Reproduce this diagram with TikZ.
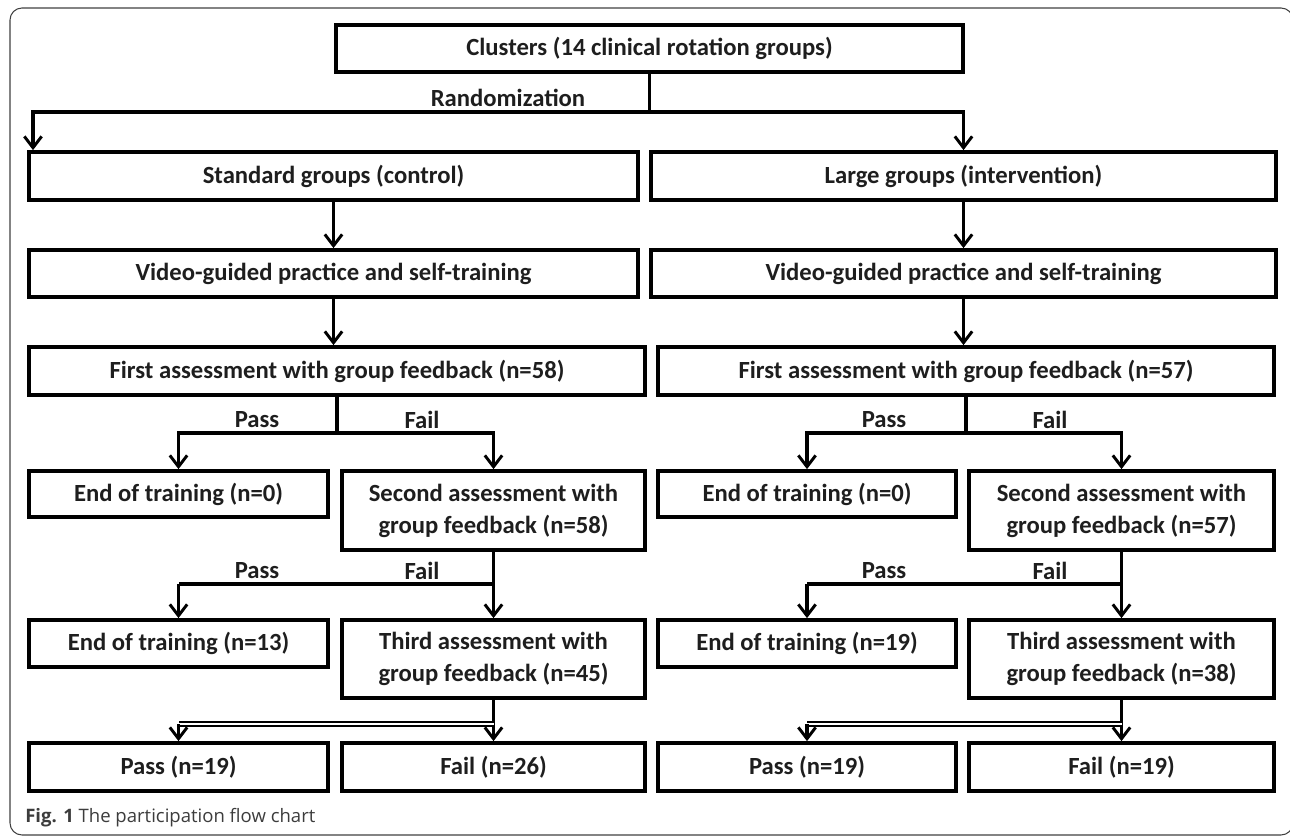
\documentclass[tikz,border=0pt]{standalone}
\usepackage{fontspec}
\setmainfont{Carlito}
\newfontfamily\capfont{Open Sans}
\usetikzlibrary{arrows.meta}
\definecolor{ink}{HTML}{1E1E1E}
\definecolor{capgray}{HTML}{3C3C3C}
\newcommand\bx[6]{\node[box, minimum width={(#4-#2)*0.75pt}, minimum height={(#5-#3)*0.75pt}] (#1) at ({(#2+#4)/2},{(#3+#5)/2}) {#6};}
\begin{document}
\begin{tikzpicture}[x=0.75pt,y=-0.75pt,
  box/.style={draw=black, line width=2.8pt, fill=white, inner sep=0pt, align=center, text=ink,
    font=\bfseries\fontsize{18.5}{24}\selectfont},
  conn/.style={draw=black, line width=2.8pt, -{Straight Barb[length=8.5pt,width=13pt,line width=2.2pt]}},
  plain/.style={draw=black, line width=2.8pt},
  dbl/.style={draw=black, line width=1.2pt, double=white, double distance=1.5pt},
  lbl/.style={text=ink, font=\bfseries\fontsize{18.5}{22}\selectfont, inner sep=0pt},
  frame/.style={draw=black!75, line width=0.8pt, rounded corners=9pt}
]
\useasboundingbox (0,0) rectangle (1290,837);
\draw[frame] (10,8) rectangle (1293,835);

\bx{clu}{336}{25}{963}{72}{Clusters (14 clinical rotation groups)}
\bx{std}{29}{152}{638}{200}{Standard groups (control)}
\bx{lrg}{651}{152}{1276}{200}{Large groups (intervention)}
\bx{vidL}{29}{250}{638}{297}{Video-guided practice and self-training}
\bx{vidR}{651}{250}{1276}{297}{Video-guided practice and self-training}
\bx{faL}{29}{347}{645}{395}{First assessment with group feedback (n=58)}
\bx{faR}{658}{347}{1274}{395}{First assessment with group feedback (n=57)}
\bx{e1L}{29}{471}{328}{517}{End of training (n=0)}
\bx{s2L}{342}{471}{645}{550}{Second assessment with\\group feedback (n=58)}
\bx{e1R}{658}{471}{956}{517}{End of training (n=0)}
\bx{s2R}{969}{471}{1274}{550}{Second assessment with\\group feedback (n=57)}
\bx{e2L}{29}{620}{328}{667}{End of training (n=13)}
\bx{t3L}{342}{620}{645}{698}{Third assessment with\\group feedback (n=45)}
\bx{e2R}{658}{620}{956}{667}{End of training (n=19)}
\bx{t3R}{969}{620}{1274}{698}{Third assessment with\\group feedback (n=38)}
\bx{pL}{29}{743}{328}{791}{Pass (n=19)}
\bx{fL}{342}{743}{645}{791}{Fail (n=26)}
\bx{pR}{658}{743}{956}{791}{Pass (n=19)}
\bx{fR}{969}{743}{1274}{791}{Fail (n=19)}

% helper coordinates
\coordinate (h0) at (0,112);
\coordinate (aL) at (33,0);
\coordinate (h1) at (0,433);
\coordinate (h2) at (0,584);
\coordinate (h3) at (0,724);

% randomization
\draw[plain] (clu.south) -- (clu.south |- h0);
\draw[conn] (clu.south |- h0) -| (aL |- std.north);
\draw[conn] (clu.south |- h0) -| (lrg.north);
\node[lbl] (rnd) at (508,98) {Randomization};

% column arrows
\draw[conn] (std.south) -- (std.south |- vidL.north);
\draw[conn] (lrg.south) -- (lrg.south |- vidR.north);
\draw[conn] (vidL.south) -- (vidL.south |- faL.north);
\draw[conn] (vidR.south) -- (vidR.south |- faR.north);

% first split
\foreach \fa/\e/\s in {faL/e1L/s2L, faR/e1R/s2R}{
  \draw[plain] (\fa.south) -- (\fa.south |- h1);
  \draw[conn] (\fa.south |- h1) -| (\e.north);
  \draw[conn] (\fa.south |- h1) -| (\s.north);
}
\node[lbl] (pa1L) at (257,420) {Pass};
\node[lbl] (fa1L) at (422,420) {Fail};
\node[lbl] (pa1R) at (884,420) {Pass};
\node[lbl] (fa1R) at (1050,420) {Fail};

% second split
\foreach \s/\e/\t in {s2L/e2L/t3L, s2R/e2R/t3R}{
  \draw[conn] (\s.south) -- (\t.north);
  \draw[plain] (\s.south |- h2) -- (\e.north |- h2);
  \draw[conn] (\e.north |- h2) -- (\e.north);
}
\node[lbl] (pa2L) at (257,571) {Pass};
\node[lbl] (fa2L) at (422,571) {Fail};
\node[lbl] (pa2R) at (884,571) {Pass};
\node[lbl] (fa2R) at (1050,571) {Fail};

% third split
\foreach \t/\p/\f in {t3L/pL/fL, t3R/pR/fR}{
  \draw[conn] (\t.south) -- (\f.north);
  \draw[dbl] (\t.south |- h3) -- (\p.north |- h3);
  \draw[conn] (\p.north |- h3) -- (\p.north);
}

\node[anchor=base west, inner sep=0pt, text=capgray, font=\capfont\fontsize{13.9}{16}\selectfont] (cap) at (25,822) {\textbf{Fig. 1} The participation flow chart};
\end{tikzpicture}
\end{document}
